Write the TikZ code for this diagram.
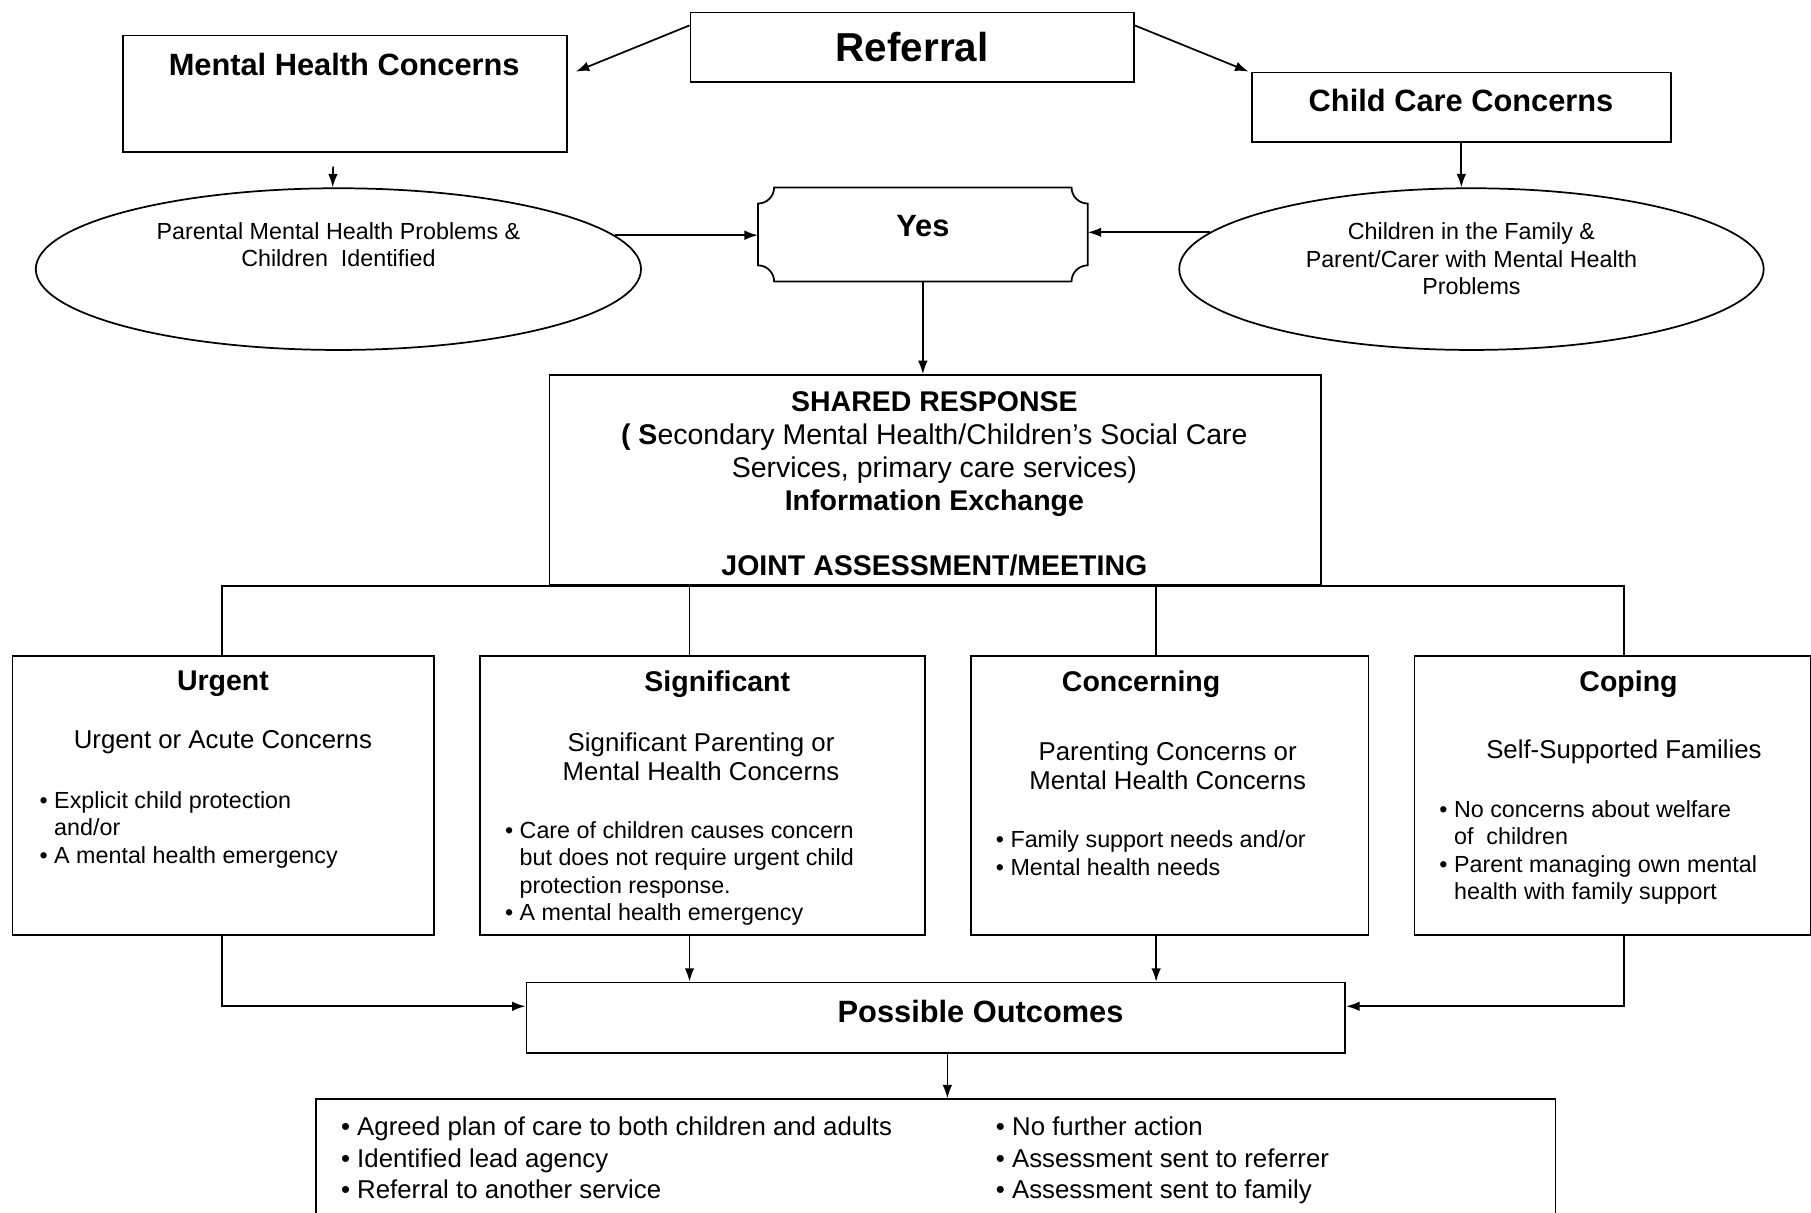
\documentclass[tikz,border=0pt]{standalone}
\usepackage{fontspec}
\setmainfont{Liberation Sans}
\usetikzlibrary{calc,arrows.meta,shapes.geometric}

\newlength\px
\setlength\px{0.6pt}
\newcommand{\bl}{\textbullet\ }
\newcommand{\ind}{\phantom{\textbullet\ }}

\begin{document}
\begin{tikzpicture}[x=0.6pt,y=0.6pt,line width=0.9pt,>={Latex[length=7pt,width=5pt]},
    box/.style={draw,inner sep=0pt,anchor=north west},
    oval/.style={draw,ellipse,inner sep=0pt,minimum height=140\px},
    cat/.style={box,minimum height=242\px},
    head/.style={font=\fontsize{16}{19}\selectfont\bfseries},
    ttl/.style={font=\fontsize{14.8}{17}\selectfont\bfseries},
    sub/.style={align=center,font=\fontsize{13.4}{15}\selectfont},
    small/.style={font=\fontsize{12.1}{14.2}\selectfont},
    list/.style={small,align=left,anchor=north west}]
    \useasboundingbox (0,0) rectangle (1568,-1050);

    % Columns of the four levels
    \coordinate (colU) at (192,0);
    \coordinate (colS) at (597,0);
    \coordinate (colC) at (1001,0);
    \coordinate (colK) at (1406,0);

    % Top row
    \node[box,minimum width=384\px,minimum height=60\px,font=\fontsize{21}{25}\selectfont\bfseries]
        (referral) at (597,-10) {Referral};
    \node[box,minimum width=384\px,minimum height=101\px] (mhc) at (106,-30) {};
    \node[head] (tmhc) at (298,-56) {Mental Health Concerns};
    \node[box,minimum width=363\px,minimum height=60\px] (ccc) at (1083,-62) {};
    \node[head] (tccc) at (1265,-87) {Child Care Concerns};

    % Ellipses and Yes
    \node[oval,minimum width=524\px] (lell) at (293,-233) {};
    \node[small,align=center] (tlell) at (293,-212) {Parental Mental Health Problems \&\\Children\ \ Identified};
    \node[oval,minimum width=506\px] (rell) at (1274,-233) {};
    \node[small,align=center] (trell) at (1274,-224) {Children in the Family \&\\Parent/Carer with Mental Health\\Problems};
    \node[inner sep=0pt,minimum width=284\px,minimum height=80\px] (yes) at (799,-203) {};
    \draw ($(yes.north west)+(14,0)$) arc[start angle=0,end angle=-90,radius=14\px]
        -- ($(yes.south west)+(0,14)$) arc[start angle=90,end angle=0,radius=14\px]
        -- ($(yes.south east)+(-14,0)$) arc[start angle=180,end angle=90,radius=14\px]
        -- ($(yes.north east)+(0,-14)$) arc[start angle=270,end angle=180,radius=14\px]
        -- cycle;
    \node[head] (tyes) at (799,-196) {Yes};

    % Shared response
    \node[box,minimum width=668\px,minimum height=182\px] (shared) at (475,-324) {};
    \node[align=center,font=\fontsize{14.8}{17.1}\selectfont] (tshared) at (809,-419)
        {\textbf{SHARED RESPONSE}\\\textbf{( S}econdary Mental Health/Children’s Social Care\\
         Services, primary care services)\\\textbf{Information Exchange}\\[17.1pt]
         \textbf{JOINT ASSESSMENT/MEETING}};

    % Four levels
    \node[cat,minimum width=365\px] (urgent) at (10,-567) {};
    \node[cat,minimum width=385\px] (signif) at (415,-567) {};
    \node[cat,minimum width=344\px] (concern) at (840,-567) {};
    \node[cat,minimum width=343\px] (coping) at (1224,-567) {};

    \node[ttl] (turgent) at (193,-592) {Urgent};
    \node[ttl] (tsignif) at (621,-592) {Significant};
    \node[ttl] (tconcern) at (988,-592) {Concerning};
    \node[ttl] (tcoping) at (1410,-592) {Coping};

    \node[sub] (surgent) at (193,-643) {Urgent or Acute Concerns};
    \node[sub] (ssignif) at (607,-655) {Significant Parenting or\\Mental Health Concerns};
    \node[sub] (sconcern) at (1011,-663) {Parenting Concerns or\\Mental Health Concerns};
    \node[sub] (scoping) at (1406,-651) {Self-Supported Families};

    \node[list] (lurgent) at (28,-679) {\bl Explicit child protection\\\ind and/or\\\bl A mental health emergency};
    \node[list] (lsignif) at (431,-705) {\bl Care of children causes concern\\\ind but does not require urgent child\\
        \ind protection response.\\\bl A mental health emergency};
    \node[list] (lconcern) at (856,-713) {\bl Family support needs and/or\\\bl Mental health needs};
    \node[list] (lcoping) at (1240,-687) {\bl No concerns about welfare\\\ind of\ \ children\\
        \bl Parent managing own mental\\\ind health with family support};

    % Outcomes
    \node[box,minimum width=709\px,minimum height=61\px] (outcome) at (455,-850) {};
    \node[head] (toutcome) at (849,-876) {Possible Outcomes};
    \node[box,minimum width=1073\px,minimum height=140\px] (result) at (273,-951) {};
    \node[small,align=left,anchor=north west,font=\fontsize{13.4}{16.2}\selectfont] (lresult) at (289,-961)
        {\bl Agreed plan of care to both children and adults\\\bl Identified lead agency\\\bl Referral to another service};
    \node[small,align=left,anchor=north west,font=\fontsize{13.4}{16.2}\selectfont] (rresult) at (856,-961)
        {\bl No further action\\\bl Assessment sent to referrer\\\bl Assessment sent to family};

    % Connectors
    \draw[->] ($(referral.north west)+(0,-12)$) -- ($(mhc.north east)+(7,-32)$);
    \draw[->] ($(referral.north east)+(0,-12)$) -- ($(ccc.north west)+(-2,0)$);
    \draw[->,shorten <=7pt] ($(mhc.south)+(-10,0)$) -- ($(lell.north)+(-5,0)$);
    \draw[->] (ccc.south) -- (ccc.south |- rell.north);
    \draw[->] (lell.7) -- (lell.7 -| yes.west);
    \draw[->] (rell.172) -- (rell.172 -| yes.east);
    \draw[->] (yes.south) -- (yes.south |- shared.north);

    \draw (colU |- urgent.north) |- (shared.south) -| (colK |- coping.north);
    \draw (colS |- shared.south) -- (colS |- signif.north);
    \draw (colC |- shared.south) -- (colC |- concern.north);

    \draw[->] (colU |- urgent.south) |- ($(outcome.west)+(0,10)$);
    \draw[->] (colS |- signif.south) -- (colS |- outcome.north);
    \draw[->] (colC |- concern.south) -- (colC |- outcome.north);
    \draw[->] (colK |- coping.south) |- ($(outcome.east)+(0,10)$);
    \draw[->] ($(outcome.south)+(10,0)$) -- ($(result.north)+(10,0)$);
\end{tikzpicture}
\end{document}
